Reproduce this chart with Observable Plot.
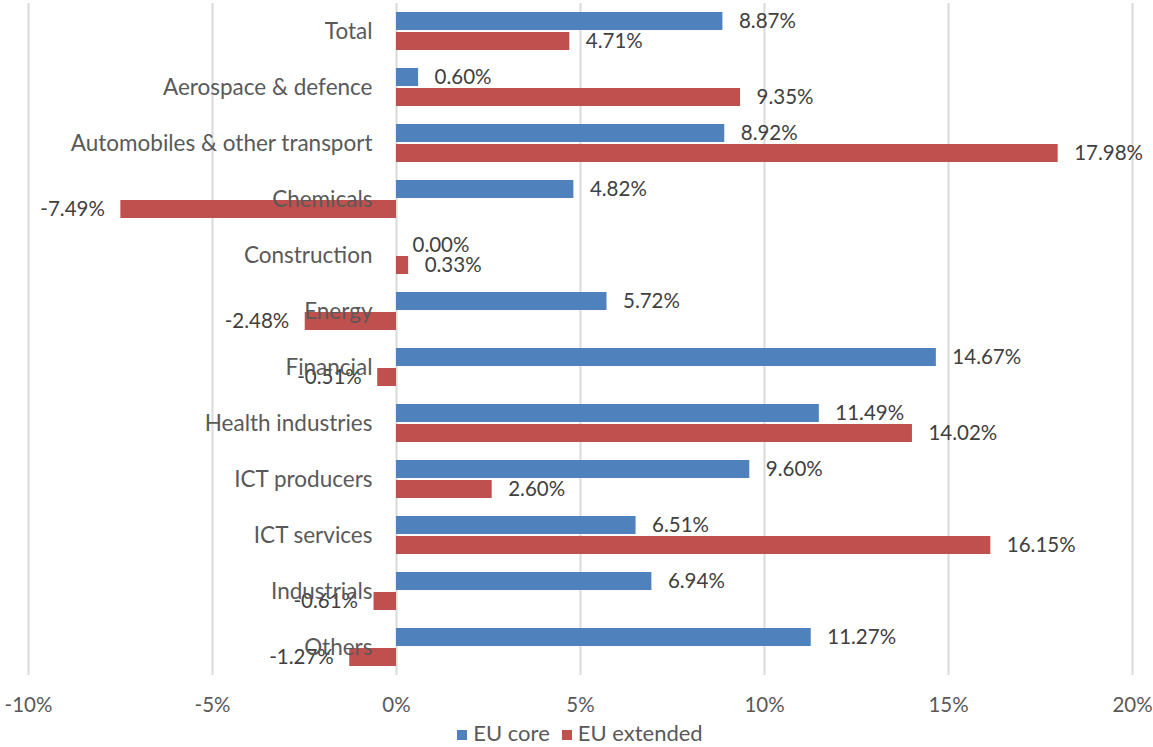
<!DOCTYPE html>
<html>
<head>
<meta charset="utf-8">
<script src="https://cdn.jsdelivr.net/npm/d3@7"></script>
<script src="https://cdn.jsdelivr.net/npm/@observablehq/plot@0.6"></script>
<style>
  html, body { margin: 0; padding: 0; background: #fff; }
  body { width: 1153px; font-family: Lato, "Open Sans", sans-serif; }
  #legend { display: flex; justify-content: center; gap: 12px; font-size: 22px; color: #595959; margin-left: 30px; width: 1100px; line-height: 22px; }
  #legend span.sw { display: inline-block; width: 10px; height: 10px; margin-right: 6px; vertical-align: 1px; }
</style>
</head>
<body>
<div id="chart"></div>
<div id="legend"></div>
<script>
const categories = ["Total", "Aerospace & defence", "Automobiles & other transport", "Chemicals", "Construction", "Energy", "Financial", "Health industries", "ICT producers", "ICT services", "Industrials", "Others"];
const series = ["EU core", "EU extended"];
const euCore = [8.87, 0.60, 8.92, 4.82, 0.00, 5.72, 14.67, 11.49, 9.60, 6.51, 6.94, 11.27];
const euExtended = [4.71, 9.35, 17.98, -7.49, 0.33, -2.48, -0.51, 14.02, 2.60, 16.15, -0.61, -1.27];
const colors = ["#4F81BD", "#C0504D"];
const xTicks = [-10, -5, 0, 5, 10, 15, 20];

const data = [];
categories.forEach((c, i) => {
  data.push({category: c, series: series[0], value: euCore[i]});
  data.push({category: c, series: series[1], value: euExtended[i]});
});

const font = "Lato, 'Open Sans', sans-serif";
const fs = 20.5;

const chart = Plot.plot({
  width: 1153,
  height: 722,
  marginTop: 3,
  marginBottom: 47,
  marginLeft: 28,
  marginRight: 21,
  style: {fontFamily: font, fontSize: fs + "px", color: "#595959", background: "#fff"},
  x: {domain: [-10, 20], ticks: xTicks, tickFormat: d => d + "%", tickSize: 0, tickPadding: 22, label: null},
  fy: {domain: categories, padding: 0, axis: null},
  y: {domain: series, paddingInner: 0.1, paddingOuter: 0.45, axis: null},
  color: {domain: series, range: colors},
  marks: [
    Plot.gridX(xTicks, {stroke: "#d9d9d9", strokeOpacity: 1, strokeWidth: 2}),
    Plot.barX(data, {fy: "category", y: "series", x: "value", fill: "series"}),
    Plot.text(data.filter(d => d.value >= 0), {fy: "category", y: "series", x: "value", text: d => d.value.toFixed(2) + "%", textAnchor: "start", dx: 16, fill: "#404040", fontSize: fs}),
    Plot.text(data.filter(d => d.value < 0), {fy: "category", y: "series", x: "value", text: d => d.value.toFixed(2) + "%", textAnchor: "end", dx: -16, fill: "#404040", fontSize: fs}),
    Plot.text(categories, {fy: d => d, x: d => 0, text: d => d, textAnchor: "end", dx: -24, fill: "#595959", fontSize: 22.5, frameAnchor: "middle"}),
    Plot.axisX({ticks: xTicks, tickFormat: d => d + "%", tickSize: 0, tickPadding: 22, fill: "#595959", fontSize: fs, label: null})
  ]
});
document.getElementById("chart").appendChild(chart);

const legend = document.getElementById("legend");
series.forEach((s, i) => {
  const item = document.createElement("div");
  item.innerHTML = `<span class="sw" style="background:${colors[i]}"></span>${s}`;
  legend.appendChild(item);
});
</script>
</body>
</html>
